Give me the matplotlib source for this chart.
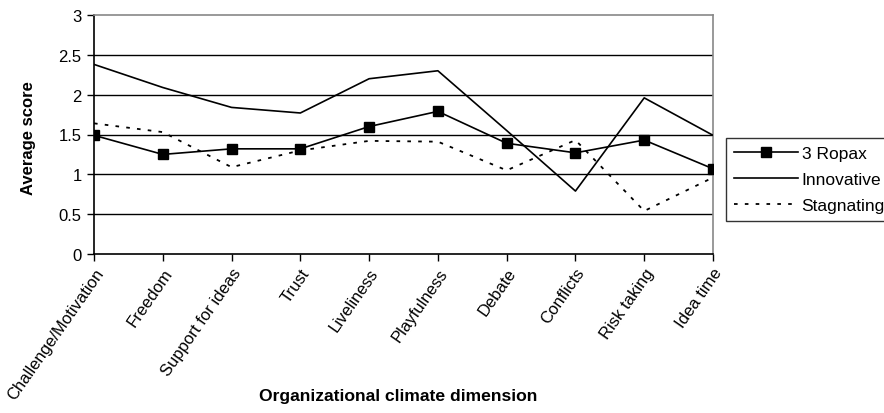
import matplotlib
matplotlib.use("Agg")
import matplotlib.pyplot as plt

categories = ["Challenge/Motivation", "Freedom", "Support for ideas", "Trust",
              "Liveliness", "Playfulness", "Debate", "Conflicts", "Risk taking", "Idea time"]
ropax = [1.49, 1.25, 1.32, 1.32, 1.60, 1.79, 1.39, 1.27, 1.43, 1.07]
innovative = [2.38, 2.09, 1.84, 1.77, 2.20, 2.30, 1.55, 0.79, 1.96, 1.49]
stagnating = [1.64, 1.53, 1.09, 1.30, 1.42, 1.41, 1.05, 1.43, 0.54, 0.96]
yticks = [0, 0.5, 1, 1.5, 2, 2.5, 3]

plt.rcParams['font.family'] = ['Liberation Sans', 'DejaVu Sans']

fig = plt.figure(figsize=(8.84, 4.14), dpi=100)
ax = fig.add_axes([94/884, 1-255/414, (713-94)/884, (255-16)/414])

x = list(range(len(categories)))
for yv in yticks[1:-1]:
    ax.axhline(yv, color='black', lw=1.0, zorder=1)

l1, = ax.plot(x, ropax, color='black', lw=1.2, marker='s', markersize=7.5, label='3 Ropax', zorder=3)
l2, = ax.plot(x, innovative, color='black', lw=1.2, label='Innovative', zorder=3)
l3, = ax.plot(x, stagnating, color='black', lw=1.3, linestyle=(0, (2, 4)), label='Stagnating', zorder=3)

ax.set_xlim(0, len(categories)-1)
ax.set_ylim(0, 3)
ax.set_yticks(yticks)
ax.set_yticklabels(['0', '0.5', '1', '1.5', '2', '2.5', '3'], fontsize=12)
ax.set_xticks(x)
ax.set_xticklabels(categories, rotation=55, ha='right', va='top', rotation_mode='anchor', fontsize=12)
ax.tick_params(axis='both', direction='out', length=5, width=1, color='black')
ax.tick_params(axis='x', pad=3)
ax.tick_params(axis='y', pad=4)

for s in ['top', 'right']:
    ax.spines[s].set_color('#888888')
    ax.spines[s].set_linewidth(1.2)
for s in ['left', 'bottom']:
    ax.spines[s].set_color('black')
    ax.spines[s].set_linewidth(1.2)

fig.text(28/884, 1-138/414, 'Average score', ha='center', va='center', rotation=90,
         fontsize=12, fontweight='bold')
fig.text(398/884, 1-397/414, 'Organizational climate dimension', ha='center', va='center',
         fontsize=12.6, fontweight='bold')

leg = fig.legend(handles=[l1, l2, l3], loc='upper left', bbox_to_anchor=(726/884, 1-139/414),
                 fontsize=12.5, frameon=True, fancybox=False, handlelength=3.7,
                 borderpad=0.45, labelspacing=0.62, handletextpad=0.2, borderaxespad=0)
leg.get_frame().set_edgecolor('black')
leg.get_frame().set_linewidth(1.0)

fig.savefig('out.png', dpi=100)
